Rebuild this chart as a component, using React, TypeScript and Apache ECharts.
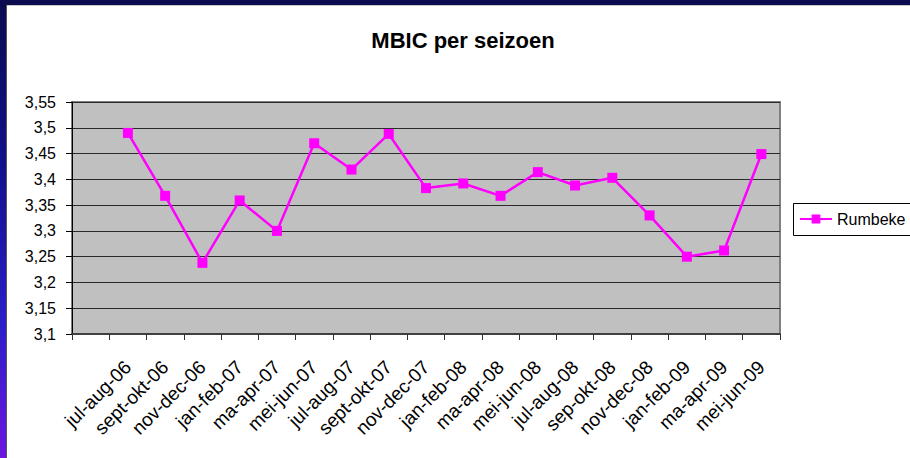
import React, { useEffect, useRef } from "react";
import * as echarts from "echarts";

const categories: string[] = [
  "",
  "jul-aug-06",
  "sept-okt-06",
  "nov-dec-06",
  "jan-feb-07",
  "ma-apr-07",
  "mei-jun-07",
  "jul-aug-07",
  "sept-okt-07",
  "nov-dec-07",
  "jan-feb-08",
  "ma-apr-08",
  "mei-jun-08",
  "jul-aug-08",
  "sep-okt-08",
  "nov-dec-08",
  "jan-feb-09",
  "ma-apr-09",
  "mei-jun-09",
];

const rumbeke: (number | null)[] = [
  null, 3.49, 3.368, 3.238, 3.359, 3.3, 3.47, 3.419, 3.488, 3.383, 3.392,
  3.368, 3.414, 3.388, 3.403, 3.33, 3.25, 3.262, 3.449,
];

const seriesName = "Rumbeke";
const titleText = "MBIC per seizoen";
const yMin = 3.1;
const yMax = 3.55;
const yStep = 0.05;

const FONT = "'Liberation Sans', Arial, sans-serif";

export default function App() {
  const ref = useRef<HTMLDivElement>(null);

  useEffect(() => {
    if (!ref.current) return;
    const chart = echarts.init(ref.current, null, { renderer: "svg" });
    chart.setOption({
      animation: false,
      backgroundColor: "#ffffff",
      textStyle: { fontFamily: FONT },
      grid: {
        left: 72,
        right: 130,
        top: 102,
        bottom: 124,
        show: true,
        backgroundColor: "#C0C0C0",
        borderColor: "#808080",
        borderWidth: 2,
      },
      xAxis: {
        type: "category",
        data: categories,
        boundaryGap: true,
        axisLine: { show: true, lineStyle: { color: "#404040", width: 2 } },
        axisTick: {
          show: true,
          interval: 0,
          alignWithLabel: false,
          length: 6,
          lineStyle: { color: "#333333", width: 1 },
        },
        axisLabel: {
          interval: 0,
          rotate: 45,
          margin: 30,
          padding: [12, 0, 0, 0],
          fontSize: 19,
          color: "#000000",
          fontFamily: FONT,
        },
        splitLine: { show: false },
      },
      yAxis: {
        type: "value",
        min: yMin,
        max: yMax,
        interval: yStep,
        axisLine: { show: true, lineStyle: { color: "#000000", width: 1 } },
        axisTick: {
          show: true,
          length: 6,
          lineStyle: { color: "#000000", width: 1 },
        },
        axisLabel: {
          margin: 16,
          fontSize: 16,
          color: "#000000",
          fontFamily: FONT,
          formatter: (v: number) =>
            parseFloat(v.toFixed(2)).toString().replace(".", ","),
        },
        splitLine: { show: true, lineStyle: { color: "#2a2a2a", width: 1 } },
      },
      legend: {
        show: true,
        data: [seriesName],
        orient: "vertical",
        left: 793,
        top: 203,
        backgroundColor: "transparent",
        borderWidth: 0,
        padding: [8, 6, 8, 6],
        itemWidth: 32,
        itemHeight: 11,
        itemGap: 5,
        textStyle: { fontSize: 16, color: "#000000", fontFamily: FONT },
      },
      series: [
        {
          name: seriesName,
          type: "line",
          data: rumbeke,
          symbol: "rect",
          symbolSize: 10,
          showSymbol: true,
          lineStyle: { color: "#FF00FF", width: 2.5 },
          itemStyle: { color: "#FF00FF" },
        },
      ],
      graphic: [
        {
          type: "rect",
          shape: { x: 793.5, y: 203.5, width: 200, height: 32 },
          style: { fill: "#ffffff", stroke: "#000000", lineWidth: 1 },
          z: 1,
        },
        {
          type: "text",
          x: 463,
          y: 40,
          style: {
            text: titleText,
            x: 0,
            y: 0,
            align: "center",
            verticalAlign: "middle",
            font: `bold 22px ${FONT}`,
            fill: "#000000",
          },
          z: 10,
        },
        {
          type: "rect",
          shape: { x: 0, y: 0, width: 910, height: 5 },
          style: { fill: "#0b0b50" },
          z: 20,
        },
        {
          type: "line",
          shape: { x1: 6, y1: 5.5, x2: 910, y2: 5.5 },
          style: { stroke: "#c8c8c8", lineWidth: 1 },
          z: 20,
        },
        {
          type: "rect",
          shape: { x: 0, y: 0, width: 6, height: 458 },
          style: {
            fill: {
              type: "linear",
              x: 0,
              y: 0,
              x2: 0,
              y2: 1,
              colorStops: [
                { offset: 0, color: "#0b0b50" },
                { offset: 0.35, color: "#10108a" },
                { offset: 0.7, color: "#2a1ec8" },
                { offset: 1, color: "#6c16e0" },
              ],
            },
          },
          z: 20,
        },
        {
          type: "line",
          shape: { x1: 6.5, y1: 5, x2: 6.5, y2: 458 },
          style: { stroke: "#555555", lineWidth: 1 },
          z: 20,
        },
      ],
    });
    return () => chart.dispose();
  }, []);

  return (
    <div
      style={{
        position: "absolute",
        left: 0,
        top: 0,
        width: 910,
        height: 458,
        background: "#ffffff",
      }}
    >
      <div ref={ref} style={{ width: 910, height: 458 }} />
    </div>
  );
}
